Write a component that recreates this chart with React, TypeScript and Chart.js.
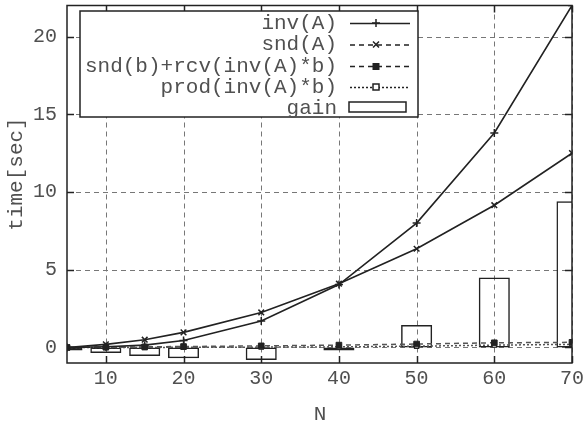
import React, { useEffect, useRef } from 'react';
import { Chart, registerables } from 'chart.js';

Chart.register(...registerables);

const nValues = [5, 10, 15, 20, 30, 40, 50, 60, 70];
const invA = [0.0, 0.05, 0.15, 0.45, 1.7, 4.05, 8.0, 13.8, 22.0];
const sndA = [0.0, 0.2, 0.5, 0.97, 2.25, 4.1, 6.35, 9.15, 12.5];
const sndRcv = [0.0, 0.02, 0.04, 0.06, 0.1, 0.15, 0.22, 0.3, 0.33];
const prodInv = [0.0, 0.0, 0.0, 0.01, 0.02, 0.04, 0.08, 0.15, 0.2];
const gain = [-0.2, -0.35, -0.55, -0.7, -0.8, -0.2, 1.45, 4.5, 9.4];
const xTicks = [10, 20, 30, 40, 50, 60, 70];
const yTicks = [0, 5, 10, 15, 20];
const xRange = [5, 70];
const yRange = [-1, 22];
const seriesLabels = ['inv(A)', 'snd(A)', 'snd(b)+rcv(inv(A)*b)', 'prod(inv(A)*b)', 'gain'];
const xTitle = 'N';
const yTitle = 'time[sec]';

const FONT = '"Liberation Mono", "Courier New", monospace';
const TEXT = '#505050';
const INK = '#222';

const pts = (ys: number[]) => nValues.map((x, i) => ({ x, y: ys[i] }));

const plotRect = (chart: any) => {
  const xs = chart.scales.x, ys = chart.scales.y;
  const L = xs.getPixelForValue(xRange[0]);
  const R = xs.getPixelForValue(xRange[1]);
  const T = ys.getPixelForValue(yRange[1]);
  const B = ys.getPixelForValue(yRange[0]);
  return { L, R, T, B };
};

const decorPlugin = {
  id: 'decor',
  beforeDatasetsDraw(chart: any) {
    const { ctx, scales } = chart;
    const xs = scales.x, ys = scales.y;
    const { L, R, T, B } = plotRect(chart);
    ctx.save();
    ctx.strokeStyle = '#777';
    ctx.lineWidth = 1;
    ctx.setLineDash([5, 4]);
    xTicks.forEach((v) => {
      const px = Math.round(xs.getPixelForValue(v)) + 0.5;
      ctx.beginPath(); ctx.moveTo(px, T); ctx.lineTo(px, B); ctx.stroke();
    });
    yTicks.forEach((v) => {
      const py = Math.round(ys.getPixelForValue(v)) + 0.5;
      ctx.beginPath(); ctx.moveTo(L, py); ctx.lineTo(R, py); ctx.stroke();
    });
    ctx.restore();
    ctx.save();
    ctx.beginPath();
    ctx.rect(L, T, R - L, B - T);
    ctx.clip();
  },
  afterDatasetsDraw(chart: any) {
    const { ctx, scales } = chart;
    ctx.restore();
    const xs = scales.x, ys = scales.y;
    const { L, R, T, B } = plotRect(chart);
    ctx.save();
    ctx.strokeStyle = INK;
    ctx.lineWidth = 1.5;
    ctx.setLineDash([]);
    const tl = 7;
    xTicks.forEach((v) => {
      const px = Math.round(xs.getPixelForValue(v)) + 0.5;
      ctx.beginPath(); ctx.moveTo(px, B); ctx.lineTo(px, B - tl); ctx.stroke();
      ctx.beginPath(); ctx.moveTo(px, T); ctx.lineTo(px, T + tl); ctx.stroke();
    });
    yTicks.forEach((v) => {
      const py = Math.round(ys.getPixelForValue(v)) + 0.5;
      ctx.beginPath(); ctx.moveTo(L, py); ctx.lineTo(L + tl, py); ctx.stroke();
      ctx.beginPath(); ctx.moveTo(R, py); ctx.lineTo(R - tl, py); ctx.stroke();
    });
    ctx.strokeRect(L, T, R - L, B - T);
    ctx.restore();
  },
  afterDraw(chart: any) {
    const { ctx } = chart;
    ctx.save();
    ctx.fillStyle = TEXT;
    ctx.font = '21px ' + FONT;
    ctx.textAlign = 'center';
    ctx.textBaseline = 'middle';
    ctx.fillText(xTitle, 320, 414);
    ctx.save();
    ctx.translate(16, 174);
    ctx.rotate(-Math.PI / 2);
    ctx.fillText(yTitle, 0, 0);
    ctx.restore();

    const bx = 80, by = 11, bw = 338, bh = 106;
    ctx.fillStyle = '#fff';
    ctx.fillRect(bx, by, bw, bh);
    ctx.strokeStyle = INK;
    ctx.lineWidth = 1.5;
    ctx.strokeRect(bx, by, bw, bh);
    ctx.font = '21px ' + FONT;
    ctx.textAlign = 'right';
    ctx.textBaseline = 'middle';
    const rowY = [23, 44.5, 66, 87, 108];
    const dashes = [[], [5, 4], [5, 4], [2, 2]];
    seriesLabels.forEach((lab, i) => {
      const y = rowY[i];
      ctx.fillStyle = TEXT;
      ctx.fillText(lab, 337, y);
      const x0 = 350, x1 = 410, mx = 376;
      if (i < 4) {
        ctx.strokeStyle = INK;
        ctx.lineWidth = 1.5;
        ctx.setLineDash(dashes[i]);
        ctx.beginPath(); ctx.moveTo(x0, y + 0.5); ctx.lineTo(x1, y + 0.5); ctx.stroke();
        ctx.setLineDash([]);
        const ds = chart.data.datasets[i];
        ctx.lineWidth = 1.5;
        if (ds.pointStyle === 'cross') {
          ctx.beginPath(); ctx.moveTo(mx - 4, y); ctx.lineTo(mx + 4, y); ctx.moveTo(mx, y - 4); ctx.lineTo(mx, y + 4); ctx.stroke();
        } else if (ds.pointStyle === 'crossRot') {
          ctx.beginPath(); ctx.moveTo(mx - 3, y - 3); ctx.lineTo(mx + 3, y + 3); ctx.moveTo(mx - 3, y + 3); ctx.lineTo(mx + 3, y - 3); ctx.stroke();
        } else if (i === 2) {
          ctx.fillStyle = INK; ctx.fillRect(mx - 3.5, y - 3, 7, 7);
        } else {
          ctx.fillStyle = '#fff'; ctx.fillRect(mx - 3, y - 3, 6, 6);
          ctx.strokeRect(mx - 3, y - 3, 6, 6);
        }
      } else {
        ctx.strokeStyle = INK;
        ctx.lineWidth = 1.5;
        ctx.strokeRect(349, y - 6, 57, 10);
      }
    });
    ctx.restore();
  },
};

export default function App() {
  const ref = useRef<HTMLCanvasElement>(null);
  useEffect(() => {
    if (!ref.current) return;
    const chart = new Chart(ref.current, {
      type: 'line',
      data: {
        datasets: [
          {
            label: seriesLabels[0], data: pts(invA), borderColor: INK, borderWidth: 1.6,
            pointStyle: 'cross', pointRadius: 4, pointBorderColor: INK, pointBorderWidth: 1.5, order: 1,
          },
          {
            label: seriesLabels[1], data: pts(sndA), borderColor: INK, borderWidth: 1.6,
            pointStyle: 'crossRot', pointRadius: 4, pointBorderColor: INK, pointBorderWidth: 1.5, order: 2,
          },
          {
            label: seriesLabels[2], data: pts(sndRcv), borderColor: '#555', borderWidth: 1.5, borderDash: [5, 4],
            pointStyle: 'rect', pointRadius: 4, pointBackgroundColor: INK, pointBorderColor: INK, pointBorderWidth: 1, order: 3,
          },
          {
            label: seriesLabels[3], data: pts(prodInv), borderColor: '#555', borderWidth: 1.5, borderDash: [2, 2],
            pointStyle: 'rect', pointRadius: 3, pointBackgroundColor: '#fff', pointBorderColor: INK, pointBorderWidth: 1.2, order: 4,
          },
          {
            type: 'bar', label: seriesLabels[4], data: pts(gain) as any, borderColor: INK, borderWidth: 1.5,
            backgroundColor: 'rgba(0,0,0,0)', barPercentage: 1, categoryPercentage: 0.8, order: 10,
            borderSkipped: false,
          } as any,
        ],
      },
      options: {
        animation: false,
        responsive: false,
        events: [],
        layout: { padding: { top: 5, right: 0, left: 0, bottom: 0 } },
        plugins: { legend: { display: false }, tooltip: { enabled: false }, title: { display: false } },
        scales: {
          x: {
            type: 'linear', min: xRange[0], max: xRange[1], offset: false,
            grid: { display: false, drawTicks: false }, border: { display: false },
            afterBuildTicks: (s: any) => { s.ticks = xTicks.map((v) => ({ value: v })); },
            afterFit: (s: any) => { s.height = 63; s.paddingLeft = 0; s.paddingRight = 13; },
            ticks: { font: { family: FONT, size: 20 }, color: TEXT, padding: 4, maxRotation: 0, autoSkip: false },
          },
          y: {
            type: 'linear', min: yRange[0], max: yRange[1],
            grid: { display: false, drawTicks: false }, border: { display: false },
            afterBuildTicks: (s: any) => { s.ticks = yTicks.map((v) => ({ value: v })); },
            afterFit: (s: any) => { s.width = 67; s.paddingTop = 0; s.paddingBottom = 0; },
            ticks: { font: { family: FONT, size: 20 }, color: TEXT, padding: 10 },
          },
        },
      },
      plugins: [decorPlugin],
    } as any);
    return () => chart.destroy();
  }, []);
  return (
    <div style={{ position: 'fixed', left: 0, top: 0, width: 585, height: 426, background: '#fff' }}>
      <canvas ref={ref} width={585} height={426} style={{ display: 'block' }} />
    </div>
  );
}
